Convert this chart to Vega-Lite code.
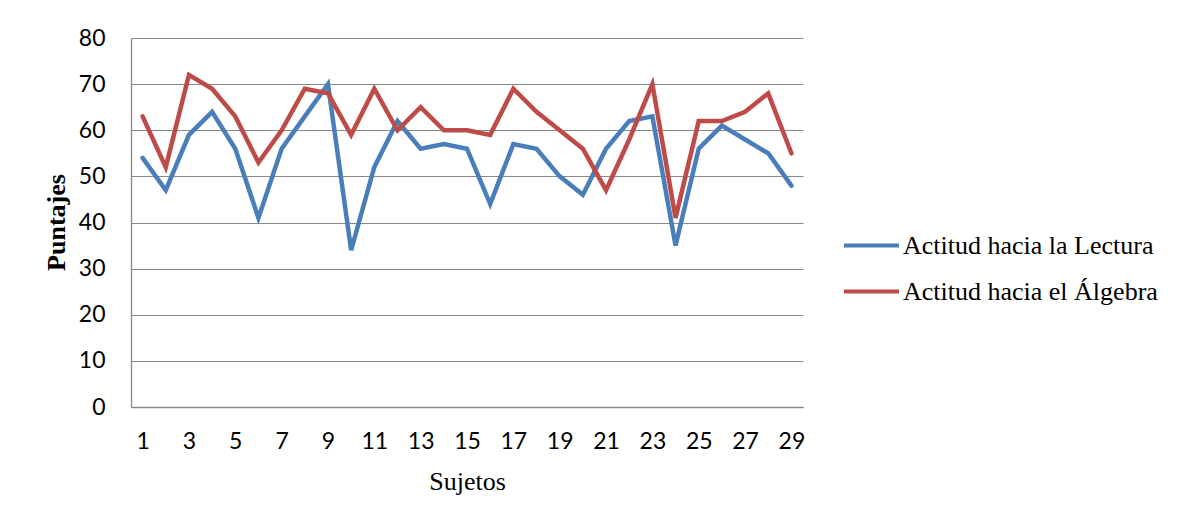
{
  "$schema": "https://vega.github.io/schema/vega-lite/v6.json",
  "width": 672,
  "height": 369,
  "autosize": {"type": "none"},
  "padding": {"left": 131, "top": 38, "right": 379, "bottom": 118},
  "background": "white",
  "config": {
    "view": {"stroke": null},
    "axis": {"gridColor": "#898989", "gridWidth": 1, "domainColor": "#898989", "domainWidth": 1.3, "ticks": false, "tickSize": 0, "labelColor": "#000000", "labelFont": "Lato", "labelFontSize": 23, "labelFontWeight": "normal", "titleColor": "#000000", "titleFont": "Liberation Serif", "titleFontSize": 26}
  },
  "datasets": {
    "puntajes": [
      {"Sujeto": 1, "Serie": "Actitud hacia la Lectura", "Puntaje": 54},
      {"Sujeto": 2, "Serie": "Actitud hacia la Lectura", "Puntaje": 47},
      {"Sujeto": 3, "Serie": "Actitud hacia la Lectura", "Puntaje": 59},
      {"Sujeto": 4, "Serie": "Actitud hacia la Lectura", "Puntaje": 64},
      {"Sujeto": 5, "Serie": "Actitud hacia la Lectura", "Puntaje": 56},
      {"Sujeto": 6, "Serie": "Actitud hacia la Lectura", "Puntaje": 41},
      {"Sujeto": 7, "Serie": "Actitud hacia la Lectura", "Puntaje": 56},
      {"Sujeto": 8, "Serie": "Actitud hacia la Lectura", "Puntaje": 63},
      {"Sujeto": 9, "Serie": "Actitud hacia la Lectura", "Puntaje": 70},
      {"Sujeto": 10, "Serie": "Actitud hacia la Lectura", "Puntaje": 34},
      {"Sujeto": 11, "Serie": "Actitud hacia la Lectura", "Puntaje": 52},
      {"Sujeto": 12, "Serie": "Actitud hacia la Lectura", "Puntaje": 62},
      {"Sujeto": 13, "Serie": "Actitud hacia la Lectura", "Puntaje": 56},
      {"Sujeto": 14, "Serie": "Actitud hacia la Lectura", "Puntaje": 57},
      {"Sujeto": 15, "Serie": "Actitud hacia la Lectura", "Puntaje": 56},
      {"Sujeto": 16, "Serie": "Actitud hacia la Lectura", "Puntaje": 44},
      {"Sujeto": 17, "Serie": "Actitud hacia la Lectura", "Puntaje": 57},
      {"Sujeto": 18, "Serie": "Actitud hacia la Lectura", "Puntaje": 56},
      {"Sujeto": 19, "Serie": "Actitud hacia la Lectura", "Puntaje": 50},
      {"Sujeto": 20, "Serie": "Actitud hacia la Lectura", "Puntaje": 46},
      {"Sujeto": 21, "Serie": "Actitud hacia la Lectura", "Puntaje": 56},
      {"Sujeto": 22, "Serie": "Actitud hacia la Lectura", "Puntaje": 62},
      {"Sujeto": 23, "Serie": "Actitud hacia la Lectura", "Puntaje": 63},
      {"Sujeto": 24, "Serie": "Actitud hacia la Lectura", "Puntaje": 35},
      {"Sujeto": 25, "Serie": "Actitud hacia la Lectura", "Puntaje": 56},
      {"Sujeto": 26, "Serie": "Actitud hacia la Lectura", "Puntaje": 61},
      {"Sujeto": 27, "Serie": "Actitud hacia la Lectura", "Puntaje": 58},
      {"Sujeto": 28, "Serie": "Actitud hacia la Lectura", "Puntaje": 55},
      {"Sujeto": 29, "Serie": "Actitud hacia la Lectura", "Puntaje": 48},
      {"Sujeto": 1, "Serie": "Actitud hacia el Álgebra", "Puntaje": 63},
      {"Sujeto": 2, "Serie": "Actitud hacia el Álgebra", "Puntaje": 52},
      {"Sujeto": 3, "Serie": "Actitud hacia el Álgebra", "Puntaje": 72},
      {"Sujeto": 4, "Serie": "Actitud hacia el Álgebra", "Puntaje": 69},
      {"Sujeto": 5, "Serie": "Actitud hacia el Álgebra", "Puntaje": 63},
      {"Sujeto": 6, "Serie": "Actitud hacia el Álgebra", "Puntaje": 53},
      {"Sujeto": 7, "Serie": "Actitud hacia el Álgebra", "Puntaje": 60},
      {"Sujeto": 8, "Serie": "Actitud hacia el Álgebra", "Puntaje": 69},
      {"Sujeto": 9, "Serie": "Actitud hacia el Álgebra", "Puntaje": 68},
      {"Sujeto": 10, "Serie": "Actitud hacia el Álgebra", "Puntaje": 59},
      {"Sujeto": 11, "Serie": "Actitud hacia el Álgebra", "Puntaje": 69},
      {"Sujeto": 12, "Serie": "Actitud hacia el Álgebra", "Puntaje": 60},
      {"Sujeto": 13, "Serie": "Actitud hacia el Álgebra", "Puntaje": 65},
      {"Sujeto": 14, "Serie": "Actitud hacia el Álgebra", "Puntaje": 60},
      {"Sujeto": 15, "Serie": "Actitud hacia el Álgebra", "Puntaje": 60},
      {"Sujeto": 16, "Serie": "Actitud hacia el Álgebra", "Puntaje": 59},
      {"Sujeto": 17, "Serie": "Actitud hacia el Álgebra", "Puntaje": 69},
      {"Sujeto": 18, "Serie": "Actitud hacia el Álgebra", "Puntaje": 64},
      {"Sujeto": 19, "Serie": "Actitud hacia el Álgebra", "Puntaje": 60},
      {"Sujeto": 20, "Serie": "Actitud hacia el Álgebra", "Puntaje": 56},
      {"Sujeto": 21, "Serie": "Actitud hacia el Álgebra", "Puntaje": 47},
      {"Sujeto": 22, "Serie": "Actitud hacia el Álgebra", "Puntaje": 58},
      {"Sujeto": 23, "Serie": "Actitud hacia el Álgebra", "Puntaje": 70},
      {"Sujeto": 24, "Serie": "Actitud hacia el Álgebra", "Puntaje": 41},
      {"Sujeto": 25, "Serie": "Actitud hacia el Álgebra", "Puntaje": 62},
      {"Sujeto": 26, "Serie": "Actitud hacia el Álgebra", "Puntaje": 62},
      {"Sujeto": 27, "Serie": "Actitud hacia el Álgebra", "Puntaje": 64},
      {"Sujeto": 28, "Serie": "Actitud hacia el Álgebra", "Puntaje": 68},
      {"Sujeto": 29, "Serie": "Actitud hacia el Álgebra", "Puntaje": 55}
    ]
  },
  "data": {"name": "puntajes"},
  "mark": {"type": "line", "strokeWidth": 4.5, "strokeCap": "round", "strokeJoin": "miter"},
  "encoding": {
    "x": {
      "field": "Sujeto",
      "type": "ordinal",
      "scale": {"type": "point", "padding": 0.5},
      "axis": {
        "title": "Sujetos",
        "values": [1, 3, 5, 7, 9, 11, 13, 15, 17, 19, 21, 23, 25, 27, 29],
        "labelAngle": 0,
        "labelBaseline": "top",
        "labelPadding": 23,
        "grid": false,
        "titleFontWeight": "normal",
        "titleBaseline": "alphabetic",
        "titleY": 82
      }
    },
    "y": {
      "field": "Puntaje",
      "type": "quantitative",
      "scale": {"domain": [0, 80], "nice": false},
      "axis": {
        "title": "Puntajes",
        "values": [0, 10, 20, 30, 40, 50, 60, 70, 80],
        "labelPadding": 26,
        "grid": true,
        "titleFontWeight": "bold",
        "titleAngle": -90,
        "titleAlign": "center",
        "titleBaseline": "middle",
        "titleX": -75,
        "titleY": 184
      }
    },
    "color": {
      "field": "Serie",
      "type": "nominal",
      "scale": {"domain": ["Actitud hacia la Lectura", "Actitud hacia el Álgebra"], "range": ["#4a7ebb", "#be4b48"]},
      "legend": {
        "title": null,
        "orient": "none",
        "legendX": 711,
        "legendY": 178,
        "padding": 0,
        "symbolType": "stroke",
        "symbolSize": 3025,
        "symbolStrokeWidth": 4,
        "labelFont": "Liberation Serif",
        "labelFontSize": 26,
        "labelColor": "#000000",
        "labelOffset": 2,
        "labelLimit": 400,
        "rowPadding": 3
      }
    }
  }
}
